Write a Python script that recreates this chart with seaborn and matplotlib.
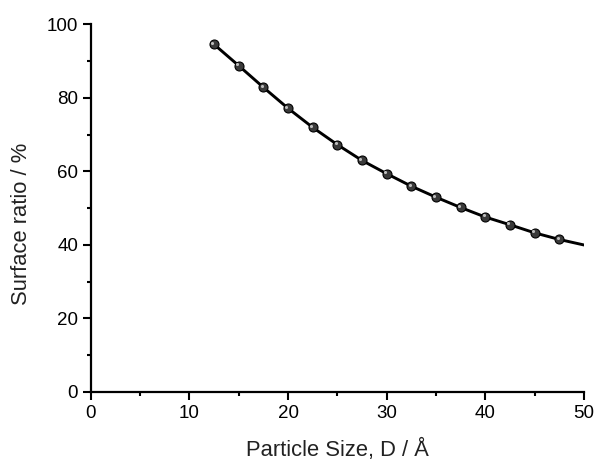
import numpy as np
import pandas as pd
import seaborn as sns
import matplotlib
matplotlib.use("Agg")
import matplotlib.pyplot as plt
from matplotlib.ticker import MultipleLocator

# Data
size_points = [12.5, 15.0, 17.5, 20.0, 22.5, 25.0, 27.5, 30.0, 32.5, 35.0,
               37.5, 40.0, 42.5, 45.0, 47.5]
ratio_points = [94.6, 88.8, 82.9, 77.2, 72.0, 67.3, 63.0, 59.4, 56.0, 53.0,
                50.2, 47.6, 45.5, 43.3, 41.5]
# curve continues to the axis end
size_curve = size_points + [50.0]
ratio_curve = ratio_points + [40.0]

sns.set_theme(style="ticks")
plt.rcParams['font.family'] = ['Liberation Sans', 'DejaVu Sans']

fig = plt.figure(figsize=(5.95, 4.61), dpi=100)
ax = fig.add_axes([0.1524, 0.1497, 0.9815 - 0.1524, 0.9469 - 0.1497])

curve_df = pd.DataFrame({"D": size_curve, "ratio": ratio_curve})
pts_df = pd.DataFrame({"D": size_points, "ratio": ratio_points})

sns.lineplot(data=curve_df, x="D", y="ratio", ax=ax, color="black",
             linewidth=2.1, zorder=2)
sns.scatterplot(data=pts_df, x="D", y="ratio", ax=ax, color="#3a3a3a",
                edgecolor="black", linewidth=0.8, s=42, zorder=3)
# highlight to mimic shaded spheres
ax.scatter(np.array(size_points) - 0.18, np.array(ratio_points) + 0.45,
           s=5, color="#bdbdbd", linewidths=0, zorder=4)

ax.set_xlim(0, 50)
ax.set_ylim(0, 100)
ax.xaxis.set_major_locator(MultipleLocator(10))
ax.xaxis.set_minor_locator(MultipleLocator(5))
ax.yaxis.set_major_locator(MultipleLocator(20))
ax.yaxis.set_minor_locator(MultipleLocator(10))

sns.despine(ax=ax)
for s in ["left", "bottom"]:
    ax.spines[s].set_linewidth(1.6)
    ax.spines[s].set_color("black")

ax.tick_params(which="major", length=5.5, width=1.5, direction="out",
               colors="black", labelsize=13.5)
ax.tick_params(axis="x", which="major", pad=4)
ax.tick_params(axis="y", which="major", pad=3.5)
ax.tick_params(which="minor", length=2.8, width=1.5, direction="out",
               colors="black")

ax.set_xlabel("Particle Size, D / Å", fontsize=15.8, color="#222222", labelpad=12)
ax.set_ylabel("Surface ratio / %", fontsize=15.8, color="#222222")
ax.yaxis.set_label_coords(-0.118, 0.457)

fig.savefig("out.png", dpi=100)
